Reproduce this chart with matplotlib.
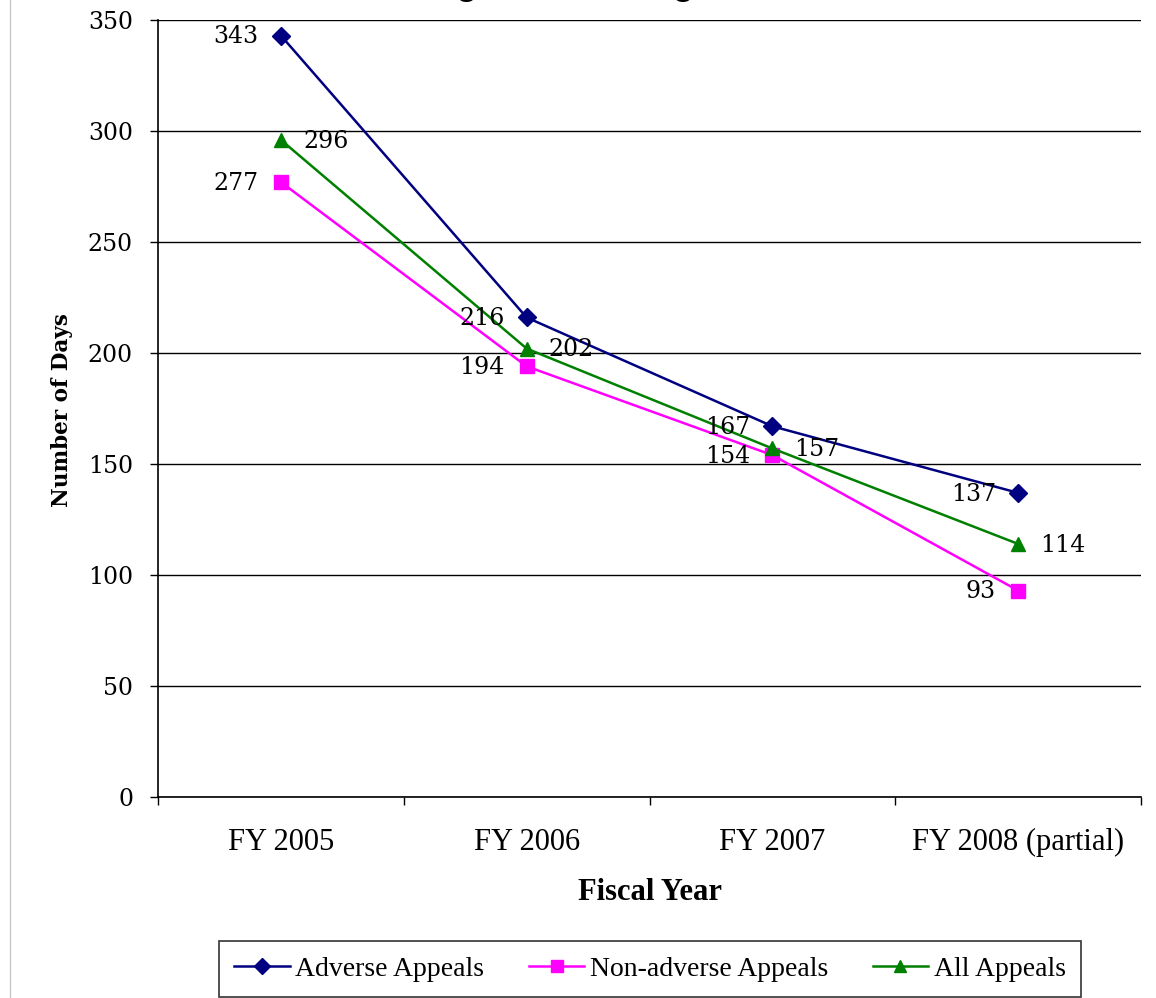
import matplotlib
matplotlib.use("Agg")
import matplotlib.pyplot as plt
from matplotlib.lines import Line2D

categories = ["FY 2005", "FY 2006", "FY 2007", "FY 2008 (partial)"]
adverse = [343, 216, 167, 137]
non_adverse = [277, 194, 154, 93]
all_appeals = [296, 202, 157, 114]
series_names = ["Adverse Appeals", "Non-adverse Appeals", "All Appeals"]
y_ticks = [0, 50, 100, 150, 200, 250, 300, 350]

W, H = 1156, 998
fig = plt.figure(figsize=(W / 100, H / 100), dpi=100)
ax = fig.add_axes([158 / W, 1 - 797 / H, (1141 - 158) / W, (797 - 20) / H])

x = list(range(len(categories)))
navy, magenta, green = "#000080", "#FF00FF", "#008000"

l1, = ax.plot(x, adverse, color=navy, lw=1.8, marker="D", ms=9, zorder=3)
l2, = ax.plot(x, non_adverse, color=magenta, lw=1.8, marker="s", ms=10, zorder=3)
l3, = ax.plot(x, all_appeals, color=green, lw=1.8, marker="^", ms=10, zorder=3)

lab_font = dict(family="DejaVu Serif", size=17)
for xi, v in zip(x, adverse):
    ax.annotate(str(v), (xi, v), xytext=(-16, -1), textcoords="offset points",
                ha="right", va="center", **lab_font)
for xi, v in zip(x, non_adverse):
    ax.annotate(str(v), (xi, v), xytext=(-16, -1), textcoords="offset points",
                ha="right", va="center", **lab_font)
for xi, v in zip(x, all_appeals):
    ax.annotate(str(v), (xi, v), xytext=(16, -1), textcoords="offset points",
                ha="left", va="center", **lab_font)

ax.set_xlim(-0.5, len(categories) - 0.5)
ax.set_ylim(0, 350)
ax.set_yticks(y_ticks)
ax.set_yticklabels([str(t) for t in y_ticks], family="DejaVu Serif", size=17)
ax.yaxis.grid(True, color="black", lw=1.0)
ax.set_axisbelow(True)

ax.set_xticks(x)
ax.set_xticklabels(categories, family="Liberation Serif", size=22)
ax.set_xticks([i + 0.5 for i in range(-1, len(categories))], minor=True)
ax.tick_params(axis="x", which="major", length=0, pad=22)
ax.tick_params(axis="x", which="minor", length=6, width=1, direction="out")
ax.tick_params(axis="y", length=6, width=1, pad=12, direction="out")

for s in ["top", "right"]:
    ax.spines[s].set_visible(False)
ax.spines["left"].set_linewidth(1.2)
ax.spines["bottom"].set_linewidth(1.2)

fig.text(62 / W, 1 - 410 / H, "Number of Days", rotation=90, ha="center", va="center",
         family="DejaVu Serif", weight="bold", size=15.5)
fig.text(650 / W, 1 - 893 / H, "Fiscal Year", ha="center", va="center",
         family="Liberation Serif", weight="bold", size=22)

# partially clipped title at the top edge (as in the reference)
fig.text(0.495, 1 + 5 / H, "Average Processing Time", ha="center", va="baseline",
         family="Liberation Sans", weight="bold", size=25)

# thin frame line at left
fig.add_artist(Line2D([10 / W, 10 / W], [0, 1], transform=fig.transFigure,
                      color="#c8c8c8", lw=1))

leg = fig.legend([l1, l2, l3], series_names, loc="center",
                 bbox_to_anchor=(650 / W, 1 - 969 / H), ncol=3,
                 prop={"family": "Liberation Serif", "size": 20},
                 frameon=True, fancybox=False, edgecolor="black",
                 handlelength=2.0, handletextpad=0.2, columnspacing=1.6,
                 borderpad=0.55, borderaxespad=0, markerscale=0.85)
leg.get_frame().set_linewidth(1.2)

fig.savefig("out.png", dpi=100)
